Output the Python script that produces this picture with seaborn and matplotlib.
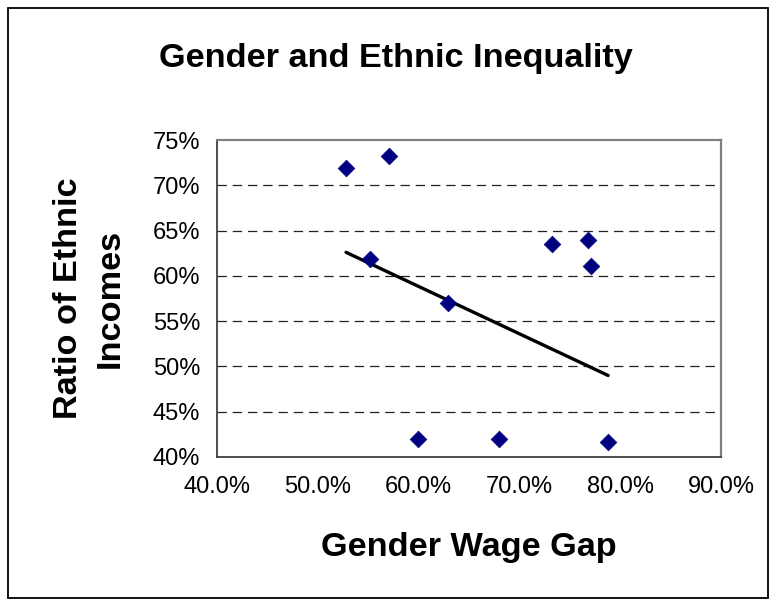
import numpy as np
import pandas as pd
import seaborn as sns
import matplotlib.pyplot as plt
from matplotlib.patches import Rectangle
from matplotlib.ticker import PercentFormatter

# values (percent)
wage_gap = [52.8, 57.1, 55.2, 59.9, 62.9, 68.0, 73.2, 76.8, 77.1, 78.8]
ethnic_ratio = [71.9, 73.2, 61.9, 42.0, 57.0, 42.0, 63.5, 64.0, 61.1, 41.7]
# linear trend line as drawn in the chart
trend_x = [52.8, 78.8]
trend_y = [62.6, 49.0]

x_ticks = [40, 50, 60, 70, 80, 90]
y_ticks = [40, 45, 50, 55, 60, 65, 70, 75]

sns.set_style("white")
plt.rcParams['font.family'] = ['Liberation Sans', 'DejaVu Sans']
plt.rcParams['text.color'] = 'black'
plt.rcParams['axes.labelcolor'] = 'black'
plt.rcParams['xtick.color'] = 'black'
plt.rcParams['ytick.color'] = 'black'

df = pd.DataFrame({'gap': wage_gap, 'ratio': ethnic_ratio})
trend = pd.DataFrame({'gap': trend_x, 'ratio': trend_y})

fig = plt.figure(figsize=(7.7, 6.02), dpi=100)
ax = fig.add_axes([0.2818, 0.2409, 0.6546, 0.5265])

# dashed horizontal gridlines
for v in y_ticks[1:-1]:
    ax.axhline(v, color='#222222', lw=0.9, ls=(0, (7.5, 4.7)), zorder=1)

sns.lineplot(data=trend, x='gap', y='ratio', color='black', lw=2.4, ax=ax, zorder=2)
sns.scatterplot(data=df, x='gap', y='ratio', marker='D', s=72, color='#000080',
                edgecolor='#000080', linewidth=0.5, ax=ax, zorder=3)

ax.set_xlim(40, 90)
ax.set_ylim(40, 75)
ax.set_xticks(x_ticks)
ax.set_yticks(y_ticks)
ax.xaxis.set_major_formatter(PercentFormatter(decimals=1))
ax.yaxis.set_major_formatter(PercentFormatter(decimals=0))
ax.tick_params(axis='both', labelsize=17, direction='out', length=5, width=1,
               color='#333333')
ax.tick_params(axis='x', pad=9)
ax.tick_params(axis='y', pad=7)

for side in ['top', 'right']:
    ax.spines[side].set_color('#808080')
    ax.spines[side].set_linewidth(1.6)
for side in ['left', 'bottom']:
    ax.spines[side].set_color('#404040')
    ax.spines[side].set_linewidth(1.3)

ax.set_xlabel('Gender Wage Gap', fontsize=24.7, fontweight='bold')
ax.set_ylabel('Ratio of Ethnic\nIncomes', fontsize=24.7, fontweight='bold', linespacing=1.45)
ax.xaxis.set_label_coords(0.5, -0.237)
ax.yaxis.set_label_coords(-0.181, 0.5)

fig.text(0.5136, 1 - 67 / 602, 'Gender and Ethnic Inequality', fontsize=24.7,
         fontweight='bold', ha='center', va='baseline')

# chart area border
fig.patches.append(Rectangle((8 / 770, 4 / 602), 760 / 770, 590 / 602,
                             transform=fig.transFigure, fill=False,
                             edgecolor='black', lw=1.3))

fig.savefig('out.png', dpi=100)
